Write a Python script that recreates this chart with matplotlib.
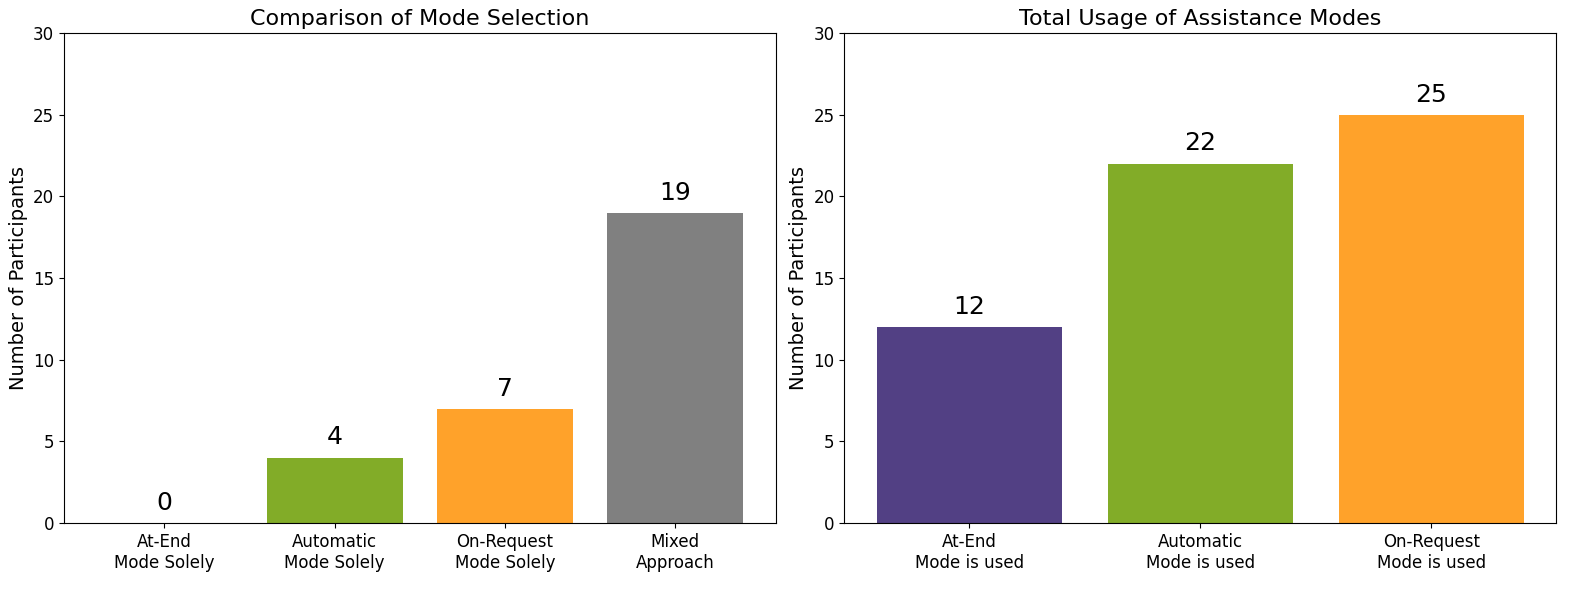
import matplotlib
matplotlib.use("Agg")
import matplotlib.pyplot as plt

left_categories = ["At-End\nMode Solely", "Automatic\nMode Solely", "On-Request\nMode Solely", "Mixed\nApproach"]
left_values = [0, 4, 7, 19]
left_colors = ["#524084", "#82AC28", "#FFA22A", "#808080"]

right_categories = ["At-End\nMode is used", "Automatic\nMode is used", "On-Request\nMode is used"]
right_values = [12, 22, 25]
right_colors = ["#524084", "#82AC28", "#FFA22A"]

fig, axes = plt.subplots(1, 2, figsize=(15.9, 5.9), dpi=100)

def draw(ax, cats, vals, cols, title):
    bars = ax.bar(cats, vals, color=cols, width=0.8)
    for b, v in zip(bars, vals):
        ax.text(b.get_x() + b.get_width() / 2, v + 0.5, str(v), ha="center", va="bottom", fontsize=18)
    ax.set_ylim(0, 30)
    ax.set_title(title, fontsize=16)
    ax.set_ylabel("Number of Participants", fontsize=14)
    ax.tick_params(axis="both", labelsize=12)

draw(axes[0], left_categories, left_values, left_colors, "Comparison of Mode Selection")
draw(axes[1], right_categories, right_values, right_colors, "Total Usage of Assistance Modes")

fig.subplots_adjust(left=64/1590, right=1556/1590, top=1-33/590, bottom=1-523/590, wspace=69/713)
fig.savefig("out.png", dpi=100)
